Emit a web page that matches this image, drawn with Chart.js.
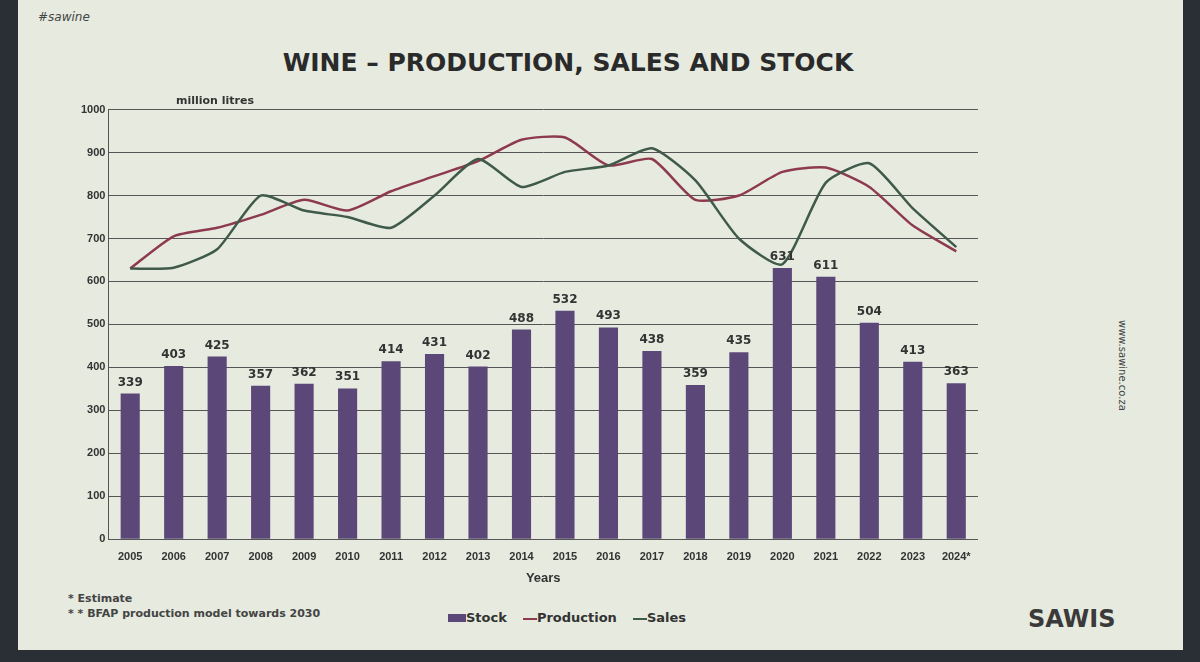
<!DOCTYPE html>
<html><head><meta charset="utf-8">
<script src="https://cdn.jsdelivr.net/npm/chart.js@4.4.1/dist/chart.umd.min.js"></script>
<style>
body{margin:0;width:1200px;height:662px;background:#2a2f36;font-family:"DejaVu Sans",sans-serif;overflow:hidden}
#slide{position:absolute;left:18px;top:0;width:1165px;height:650px;background:#e6eadf}
#title{position:absolute;left:0;width:1100px;top:48px;text-align:center;font-weight:bold;font-size:25px;color:#2a2a2a}
#tag{position:absolute;left:20px;top:10px;font-size:12px;color:#444;font-style:italic}
#wrap{position:absolute;left:60px;top:100px;width:900px;height:490px}
.fn{position:absolute;left:50px;font-size:11px;font-weight:bold;color:#444}
#leg{position:absolute;left:430px;top:610px;font-size:13px;font-weight:bold;color:#333}
#leg span{margin-right:16px}
#sawis{position:absolute;left:1010px;top:605px;font-size:24px;font-weight:bold;color:#3a3a3a}
#url{position:absolute;left:1110px;top:320px;transform:rotate(90deg);transform-origin:left top;font-size:10px;color:#444}
</style></head><body>
<div id="slide">
<div id="tag">#sawine</div>
<div id="title">WINE – PRODUCTION, SALES AND STOCK</div>
<div id="wrap"><canvas id="c"></canvas></div>
<div class="fn" style="top:592px">* Estimate</div>
<div class="fn" style="top:607px">* * BFAP production model towards 2030</div>
<div id="leg"><span><b style="display:inline-block;width:18px;height:8px;background:#5c4878"></b>Stock</span><span><b style="display:inline-block;width:14px;height:2px;background:#8e3a4e;vertical-align:middle"></b>Production</span><span><b style="display:inline-block;width:14px;height:2px;background:#3f5a48;vertical-align:middle"></b>Sales</span></div>
<div id="sawis">SAWIS</div>
<div id="url">www.sawine.co.za</div>
</div>
<div style="position:absolute;left:176px;top:94px;font-size:11px;font-weight:bold;color:#333">million litres</div>
<script>
const years=["2005","2006","2007","2008","2009","2010","2011","2012","2013","2014","2015","2016","2017","2018","2019","2020","2021","2022","2023","2024*"];
const stock=[339,403,425,357,362,351,414,431,402,488,532,493,438,359,435,631,611,504,413,363];
const production=[630,705,725,755,790,765,810,845,880,930,935,870,885,790,800,855,865,820,730,670];
const sales=[630,632,675,800,765,750,725,800,885,820,855,870,910,835,700,640,830,875,770,680];
const labelPlugin={id:'lbl',afterDatasetsDraw(ch){const ctx=ch.ctx;const m=ch.getDatasetMeta(0);ctx.save();ctx.font='bold 12px "DejaVu Sans"';ctx.fillStyle='#333';ctx.textAlign='center';m.data.forEach((b,i)=>ctx.fillText(stock[i],b.x,b.y-8));ctx.restore();}};
new Chart(document.getElementById('c'),{
data:{labels:years,datasets:[
{type:'bar',label:'Stock',data:stock,backgroundColor:'#5c4878',categoryPercentage:0.8,barPercentage:0.55,order:2},
{type:'line',label:'Production',data:production,borderColor:'#8e3a4e',borderWidth:2.5,pointRadius:0,tension:0.2,order:1},
{type:'line',label:'Sales',data:sales,borderColor:'#3f5a48',borderWidth:2.5,pointRadius:0,tension:0.2,order:0}]},
options:{responsive:true,maintainAspectRatio:false,animation:false,
plugins:{legend:{display:false},tooltip:{enabled:false}},
scales:{y:{min:0,max:1000,ticks:{stepSize:100,color:'#333',font:{size:11,weight:'bold'},callback:v=>String(v)},grid:{color:'#555',drawTicks:false},border:{color:'#555'}},
x:{ticks:{color:'#333',font:{size:11,weight:'bold'}},grid:{display:false},border:{color:'#555'},title:{display:true,text:'Years',color:'#333',font:{size:13,weight:'bold'}}}}},
plugins:[labelPlugin]
});
</script>
</body></html>
